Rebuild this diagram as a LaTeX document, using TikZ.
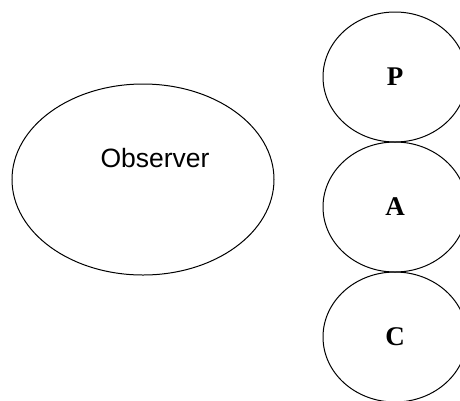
\documentclass[tikz,border=0pt]{standalone}
\usepackage{fontspec}
\setmainfont{Liberation Serif}
\setsansfont{Liberation Sans}
\usetikzlibrary{ shapes.geometric, % For ellipse and so
               }

\tikzset{
  observer/.style={draw, ellipse, line width=1pt, inner sep=0pt,
                   minimum width=262pt, minimum height=191pt},
  role/.style={draw, ellipse, line width=1pt, inner sep=0pt,
               minimum width=144pt, minimum height=130pt,
               font=\fontsize{27}{27}\selectfont\bfseries},
}

\begin{document}
\begin{tikzpicture}[x=1pt, y=-1pt]
  \useasboundingbox (0,0) rectangle (460,400);

  \node[observer] (obs) at (143,179.5) {};
  \node[font=\sffamily\fontsize{26.5}{26.5}\selectfont] (obs_text) at (155,158) {Observer};

  \node[role] (p) at (395,77) {P};
  \node[role] (a) at (395,207) {A};
  \node[role] (c) at (395,337) {C};
\end{tikzpicture}
\end{document}
